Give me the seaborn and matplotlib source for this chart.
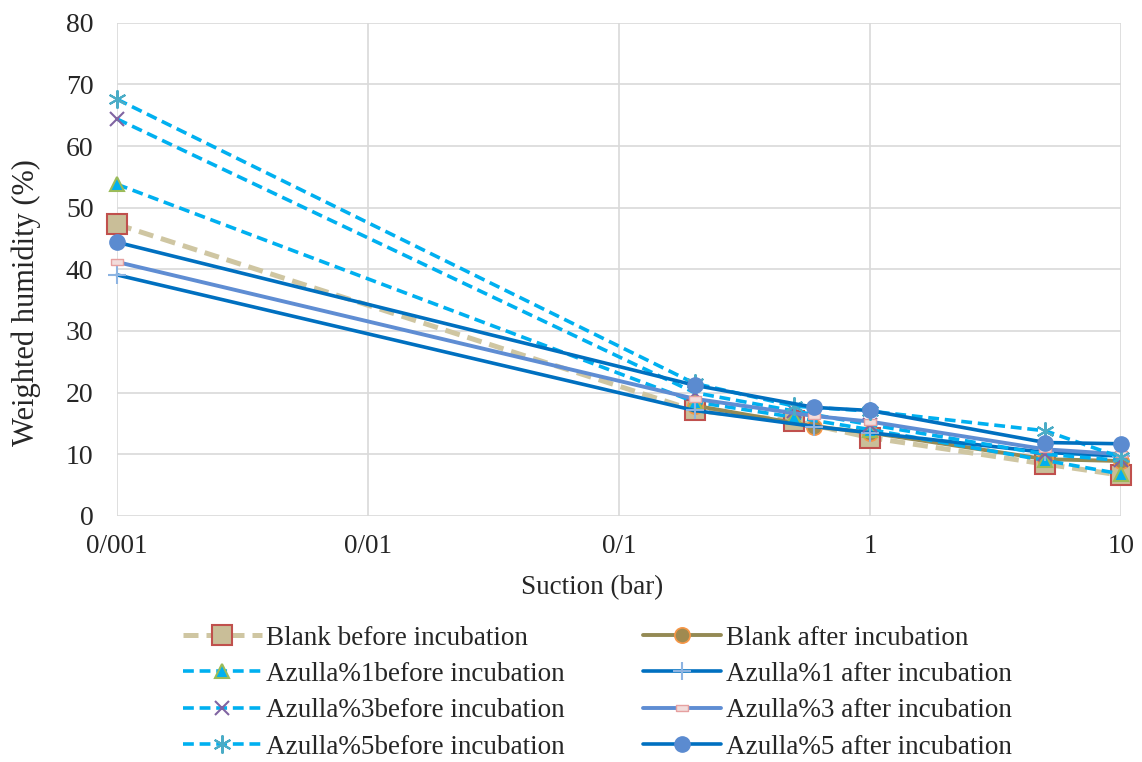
import numpy as np
import pandas as pd
import matplotlib
matplotlib.use("Agg")
import matplotlib.pyplot as plt
import seaborn as sns

# suction (bar) - "before" series were measured at 0.5, "after" at 0.6
suction_before = [0.001, 0.2, 0.5, 1, 5, 10]
suction_after = [0.001, 0.2, 0.6, 1, 5, 10]

blank_before = [47.3, 17.1, 15.4, 12.7, 8.4, 6.6]
blank_after = [None, 17.9, 14.5, 13.5, 9.2, 8.9]
az1_before = [53.8, 18.5, 16.0, 14.0, 9.0, 6.8]
az1_after = [39.1, 17.1, 14.5, 13.5, 10.3, 9.7]
az3_before = [64.4, 20.0, 17.0, 14.8, 10.0, 9.0]
az3_after = [41.2, 19.0, 16.2, 15.3, 10.8, 10.0]
az5_before = [67.6, 21.5, 17.8, 17.0, 13.8, 9.5]
az5_after = [44.4, 21.2, 17.6, 17.1, 11.9, 11.7]

x_ticks = [0.001, 0.01, 0.1, 1, 10]
x_ticklabels = ["0/001", "0/01", "0/1", "1", "10"]
y_ticks = list(range(0, 81, 10))

sns.set_style("whitegrid")
plt.rcParams["font.family"] = ["Liberation Serif", "DejaVu Serif"]

fig = plt.figure(figsize=(11.42, 7.62), dpi=100)
ax = fig.add_axes([0.1025, 0.323, 0.8791, 0.647])

rect = [(-1, -0.6), (1, -0.6), (1, 0.6), (-1, 0.6), (-1, -0.6)]
light_blue = "#00B0F0"

series = [
    ("Blank before incubation", suction_before, blank_before,
     dict(color="#CFC6A2", lw=3.6, dashes=(3, 1.6), marker="s", ms=15,
          mfc="#C9BE98", mec="#C0504D", mew=1.5)),
    ("Blank after incubation", suction_after, blank_after,
     dict(color="#948A54", lw=2.8, marker="o", ms=11,
          mfc="#A08A50", mec="#F79646", mew=1.2)),
    ("Azulla%1before incubation", suction_before, az1_before,
     dict(color=light_blue, lw=2.6, dashes=(3, 1.6), marker="^", ms=10,
          mfc=light_blue, mec="#9BBB59", mew=1.5)),
    ("Azulla%1 after incubation", suction_after, az1_after,
     dict(color="#0070C0", lw=2.6, marker="+", ms=13,
          mec="#8DB4E2", mew=1.5)),
    ("Azulla%3before incubation", suction_before, az3_before,
     dict(color=light_blue, lw=2.6, dashes=(3, 1.6), marker="x", ms=10,
          mec="#8064A2", mew=1.5)),
    ("Azulla%3 after incubation", suction_after, az3_after,
     dict(color="#5F8DD3", lw=2.8, marker=rect, ms=8,
          mfc="#F2DCDB", mec="#E6A0A0", mew=1.0)),
    ("Azulla%5before incubation", suction_before, az5_before,
     dict(color=light_blue, lw=2.6, dashes=(3, 1.6), marker=(6, 2, 0), ms=13,
          mec="#4BACC6", mew=1.5)),
    ("Azulla%5 after incubation", suction_after, az5_after,
     dict(color="#0070C0", lw=2.6, marker="o", ms=11,
          mfc="#5B8BD0", mec="#5B8BD0", mew=1.0)),
]

for name, xs, ys, style in series:
    df = pd.DataFrame({"x": xs, "y": ys}).dropna()
    sns.lineplot(data=df, x="x", y="y", ax=ax, sort=False, label=name,
                 clip_on=False, **style)

# rebuild the legend column-wise (befores left, afters right)
h, l = ax.get_legend_handles_labels()
ax.get_legend().remove()
lookup = dict(zip(l, h))
order = ["Blank before incubation", "Azulla%1before incubation",
         "Azulla%3before incubation", "Azulla%5before incubation",
         "Blank after incubation", "Azulla%1 after incubation",
         "Azulla%3 after incubation", "Azulla%5 after incubation"]
fig.legend([lookup[k] for k in order], order, loc="center",
           bbox_to_anchor=(0.523, 0.091), ncol=2, frameon=False,
           fontsize=19.5, handlelength=2.9, columnspacing=2.9,
           labelspacing=0.42, handletextpad=0.15)

ax.set_xscale("log")
ax.set_xlim(0.001, 10)
ax.set_ylim(0, 80)
ax.set_xticks(x_ticks)
ax.set_xticklabels(x_ticklabels)
ax.set_yticks(y_ticks)
ax.minorticks_off()
ax.grid(True, color="#D9D9D9", lw=1.2)
for s in ax.spines.values():
    s.set_visible(False)
ax.tick_params(axis="y", length=0, labelsize=20, pad=17)
ax.tick_params(axis="x", length=0, labelsize=19.5, pad=13)
ax.set_xlabel("Suction (bar)", fontsize=19.5)
ax.set_ylabel("Weighted humidity (%)", fontsize=22)
ax.xaxis.set_label_coords(0.473, -0.12)
ax.yaxis.set_label_coords(-0.076, 0.432)

fig.savefig("out.png", dpi=100)
